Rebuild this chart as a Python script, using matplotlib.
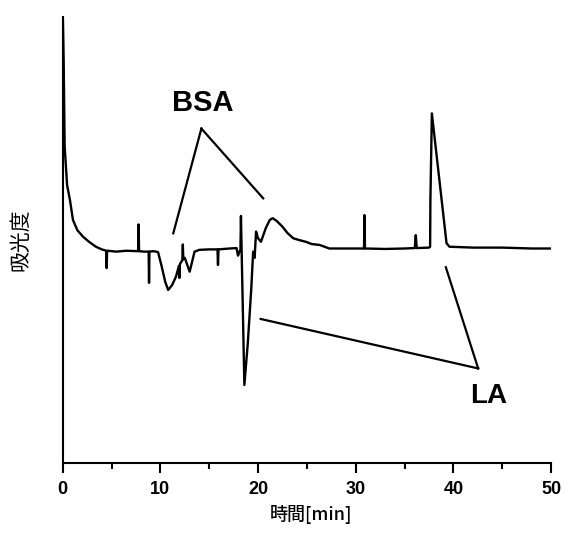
import matplotlib
matplotlib.use("Agg")
import matplotlib.pyplot as plt
from matplotlib.ticker import MultipleLocator

# chromatogram trace (time in min, absorbance in arbitrary units 0-100)
t = [0.0, 0.1, 0.2, 0.45, 0.74, 1.05, 1.5, 2.1, 2.7, 3.4, 4.0, 4.45,
     4.5, 4.55, 5.5, 6.5, 7.72, 7.77, 7.82, 8.3, 8.8, 8.84, 8.88, 9.3,
     9.76, 10.1, 10.5, 10.8, 11.2, 11.6, 11.9, 11.95, 12.0, 12.25, 12.3, 12.35,
     12.5, 13.0, 13.5, 14.0, 15.0, 15.85, 15.9, 15.95, 17.1, 17.8, 17.95, 18.1,
     18.2, 18.25, 18.6, 18.95, 19.3, 19.5, 19.55, 19.65, 19.8, 20.0, 20.3, 20.8,
     21.2, 21.5, 21.9, 22.5, 23.0, 23.6, 24.2, 24.9, 25.5, 26.3, 27.3, 29.0,
     30.85, 30.9, 30.95, 33.0, 35.0, 36.05, 36.15, 36.25, 37.5, 37.62, 37.65, 37.8,
     39.3, 39.6, 42.0, 45.0, 48.0, 50.0]
absorb = [102, 90, 70.9, 62.3, 59.0, 54.5, 52.2, 50.7, 49.6, 48.5, 47.9, 47.6,
          43.7, 47.6, 47.4, 47.6, 47.5, 53.5, 47.5, 47.4, 47.4, 40.4, 47.4, 47.5,
          47.3, 44.4, 40.6, 38.8, 39.9, 41.8, 44.2, 41.5, 44.6, 45.5, 49.0, 45.7,
          46.0, 42.9, 47.4, 47.8, 47.9, 47.9, 44.4, 47.9, 48.1, 48.2, 46.5, 47.4,
          47.8, 55.4, 17.5, 26.8, 38.8, 47.4, 47.3, 46.0, 51.9, 50.4, 49.6, 52.7,
          54.5, 54.9, 54.3, 53.0, 51.6, 50.4, 50.0, 49.6, 49.1, 48.9, 48.1, 48.1,
          48.1, 55.6, 48.1, 48.0, 48.1, 48.2, 51.1, 48.2, 48.3, 48.5, 59.0, 78.4,
          49.3, 48.5, 48.3, 48.3, 48.1, 48.1]

# annotation labels: (text, text position, apex, line ends)
bsa_text = (14.36, 80.7)
bsa_apex = (14.2, 75.0)
bsa_ends = [(11.32, 51.5), (20.53, 59.35)]
la_text = (43.63, 15.0)
la_apex = (42.54, 21.2)
la_ends = [(39.23, 43.9), (20.27, 32.3)]

num_font = ['Liberation Sans Narrow', 'Liberation Sans', 'DejaVu Sans']
jp_font = ['Noto Sans CJK JP', 'DejaVu Sans']

fig = plt.figure(figsize=(5.68, 5.34), dpi=100)
ax = fig.add_axes([0.1104, 0.133, 0.8597, 0.835])

ax.plot(t, absorb, color='black', lw=1.7)

for end in bsa_ends:
    ax.plot([bsa_apex[0], end[0]], [bsa_apex[1], end[1]], color='black', lw=1.6)
for end in la_ends:
    ax.plot([la_apex[0], end[0]], [la_apex[1], end[1]], color='black', lw=1.6)
ax.text(*bsa_text, 'BSA', ha='center', va='center', fontsize=21, fontweight='bold',
        family=['Liberation Sans', 'DejaVu Sans'])
ax.text(*la_text, 'LA', ha='center', va='center', fontsize=20, fontweight='bold',
        family=['Liberation Sans', 'DejaVu Sans'])

ax.set_xlim(0, 50)
ax.set_ylim(0, 100)
ax.spines['top'].set_visible(False)
ax.spines['right'].set_visible(False)
ax.spines['left'].set_linewidth(1.5)
ax.spines['bottom'].set_linewidth(1.5)
ax.set_yticks([])
ax.xaxis.set_major_locator(MultipleLocator(10))
ax.xaxis.set_minor_locator(MultipleLocator(5))
ax.tick_params(axis='x', which='major', direction='out', length=7, width=1.5, pad=6)
ax.tick_params(axis='x', which='minor', direction='out', length=4, width=1.5)
for lab in ax.get_xticklabels():
    lab.set_family(num_font)
    lab.set_fontweight('bold')
    lab.set_fontsize(13)

ax.set_xlabel('時間[min]', family=jp_font, fontsize=13, fontweight='medium')
ax.xaxis.set_label_coords(0.508, -0.095)
ax.set_ylabel('吸光度', family=jp_font, fontsize=15)
ax.yaxis.set_label_coords(-0.065, 0.5)

fig.savefig('out.png', dpi=100)
